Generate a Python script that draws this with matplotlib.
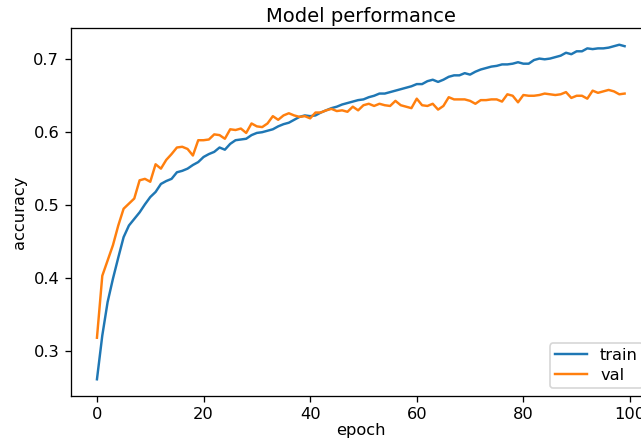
import matplotlib
matplotlib.use('Agg')
import matplotlib.pyplot as plt
import numpy as np

# accuracy per epoch
train_acc = [
    0.261, 0.321, 0.367, 0.399, 0.428, 0.456, 0.472, 0.481, 0.490, 0.501,
    0.511, 0.518, 0.529, 0.533, 0.536, 0.545, 0.547, 0.550, 0.555, 0.559,
    0.566, 0.570, 0.573, 0.579, 0.576, 0.584, 0.589, 0.590, 0.591, 0.596,
    0.599, 0.600, 0.602, 0.604, 0.608, 0.611, 0.613, 0.617, 0.621, 0.623,
    0.622, 0.623, 0.627, 0.630, 0.633, 0.635, 0.638, 0.640, 0.642, 0.644,
    0.645, 0.648, 0.650, 0.653, 0.653, 0.655, 0.657, 0.659, 0.661, 0.663,
    0.666, 0.666, 0.670, 0.672, 0.669, 0.672, 0.676, 0.678, 0.678, 0.681,
    0.679, 0.683, 0.686, 0.688, 0.690, 0.691, 0.693, 0.693, 0.694, 0.696,
    0.694, 0.694, 0.699, 0.701, 0.700, 0.701, 0.703, 0.705, 0.709, 0.707,
    0.711, 0.711, 0.715, 0.714, 0.715, 0.715, 0.716, 0.718, 0.720, 0.718,
]
val_acc = [
    0.318, 0.403, 0.424, 0.445, 0.472, 0.495, 0.502, 0.509, 0.534, 0.536,
    0.532, 0.556, 0.550, 0.562, 0.570, 0.579, 0.580, 0.577, 0.568, 0.589,
    0.589, 0.590, 0.597, 0.596, 0.591, 0.604, 0.603, 0.605, 0.599, 0.612,
    0.608, 0.607, 0.612, 0.622, 0.617, 0.623, 0.626, 0.623, 0.621, 0.622,
    0.619, 0.627, 0.627, 0.630, 0.632, 0.629, 0.630, 0.628, 0.635, 0.630,
    0.637, 0.639, 0.636, 0.639, 0.637, 0.636, 0.643, 0.637, 0.635, 0.633,
    0.646, 0.637, 0.636, 0.639, 0.631, 0.636, 0.648, 0.645, 0.645, 0.645,
    0.643, 0.639, 0.644, 0.644, 0.645, 0.645, 0.642, 0.652, 0.650, 0.641,
    0.651, 0.650, 0.650, 0.651, 0.653, 0.652, 0.651, 0.652, 0.655, 0.647,
    0.650, 0.650, 0.646, 0.657, 0.654, 0.656, 0.658, 0.656, 0.652, 0.653,
]
epochs = np.arange(len(train_acc))

# the reference looks like a default keras plot scaled up a bit, so render at ~117 dpi
DPI = 117
fig = plt.figure(figsize=(641 / DPI, 441 / DPI), dpi=DPI)
# axes runs a little past the right edge, as in the cropped reference
ax = fig.add_axes([0.1101, 0.102, 0.9055, 0.8345])

ax.plot(epochs, train_acc, label='train')
ax.plot(epochs, val_acc, label='val')

ax.set_title('Model performance', pad=3.5)
ax.set_xlabel('epoch', labelpad=0.5)
ax.set_ylabel('accuracy')
ax.legend(loc='lower right', labelspacing=0.3, borderpad=0.3)

fig.savefig('out.png', dpi=DPI, facecolor='white')
plt.close(fig)
